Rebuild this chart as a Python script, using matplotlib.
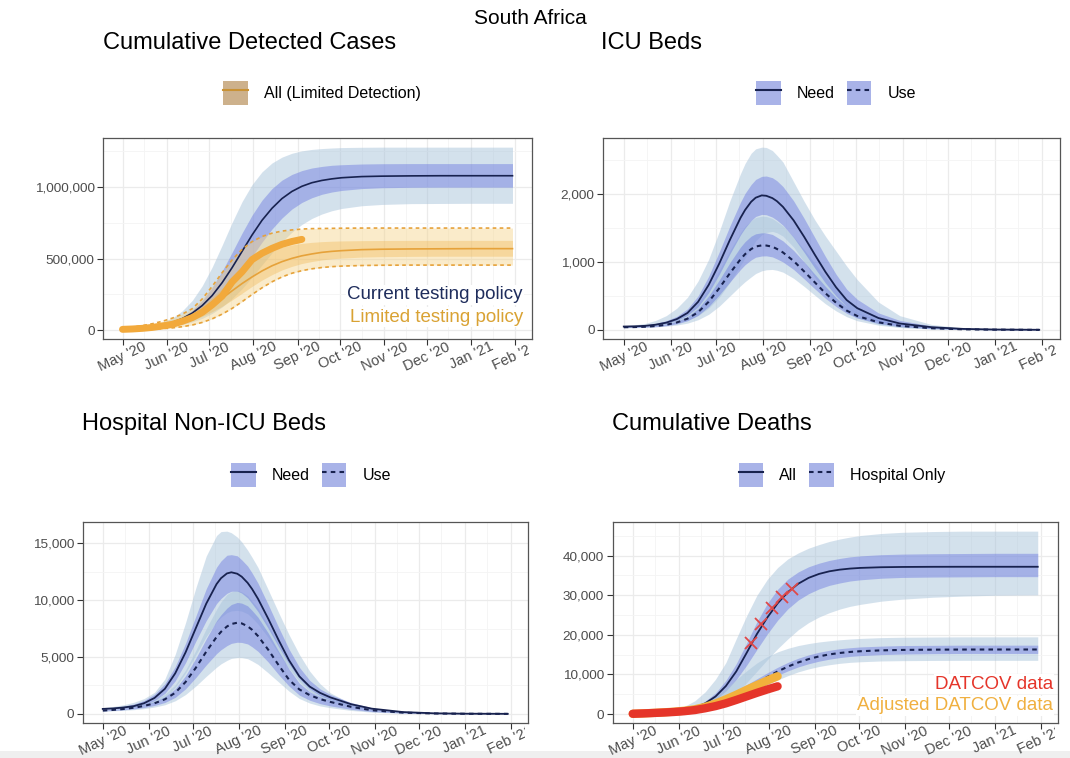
import numpy as np
import pandas as pd
import matplotlib
matplotlib.use('Agg')
import matplotlib.pyplot as plt
import matplotlib.dates as mdates
from matplotlib.ticker import MultipleLocator, FuncFormatter
from matplotlib.patches import Patch, Rectangle
from matplotlib.lines import Line2D
from matplotlib.legend_handler import HandlerTuple
from matplotlib.transforms import Bbox

plt.rcParams['font.family'] = ['Liberation Sans', 'DejaVu Sans']

# model output dates (weekly through early October, then sparser)
dates = ['2020-05-01', '2020-05-08', '2020-05-15', '2020-05-22', '2020-05-29',
         '2020-06-05', '2020-06-12', '2020-06-19', '2020-06-26', '2020-07-03',
         '2020-07-10', '2020-07-17', '2020-07-24', '2020-07-31', '2020-08-07',
         '2020-08-14', '2020-08-21', '2020-08-28', '2020-09-04', '2020-09-11',
         '2020-09-18', '2020-09-25', '2020-10-02', '2020-10-16', '2020-10-30',
         '2020-11-20', '2020-12-11', '2021-01-01', '2021-01-30']
# bed-occupancy curves carry extra points around the peak
peak_dates = dates[:12] + ['2020-07-20', '2020-07-24', '2020-07-27', '2020-07-31',
                           '2020-08-03', '2020-08-07', '2020-08-10'] + dates[15:]

# cumulative detected cases, thousands
cases_med = [7, 10, 16, 24, 36, 54, 81, 119, 172, 242, 332, 437, 551, 665, 768, 852, 920, 970,
             1006, 1031, 1047, 1058, 1066, 1074, 1077, 1079, 1080, 1080, 1080]
cases_50_lo = [5, 7.5, 11, 17, 25, 38, 56, 83, 119, 169, 235, 318, 413, 515, 615, 707, 784, 847,
               893, 926, 950, 966, 977, 990, 996, 999, 1000, 1000, 1000]
cases_50_hi = [8, 12, 18, 26, 40, 59, 91, 139, 207, 299, 413, 544, 679, 804, 909, 990, 1049, 1089,
               1116, 1134, 1145, 1153, 1157, 1162, 1164, 1165, 1165, 1165, 1165]
cases_95_lo = [4, 6, 8.7, 12.9, 18.9, 27.5, 39.8, 57.6, 82, 117, 162, 220, 290, 370, 456, 540, 618,
               685, 739, 781, 812, 835, 851, 870, 879, 885, 886, 887, 887]
cases_95_hi = [10, 14, 21, 33, 53, 85, 135, 208, 310, 441, 594, 753, 899, 1018, 1107, 1169, 1210,
               1237, 1254, 1264, 1270, 1274, 1277, 1279, 1280, 1280, 1280, 1280, 1280]

lim_med = [5, 8, 13, 20, 30, 44, 63, 90, 125, 170, 222, 275, 326, 372, 414, 450, 479, 502, 520,
           533, 544, 551, 556, 563, 566, 568, 569, 570, 570]
lim_50_lo = [4, 6.5, 10, 15, 22, 33, 48, 68, 96.5, 129, 167, 211, 258, 306, 350, 388, 421, 446,
             466, 480, 491, 499, 504, 511, 514, 516, 517, 517, 517]
lim_50_hi = [7, 10.6, 16.3, 24.8, 37.8, 56.6, 83.5, 120, 169, 228, 294, 363, 427, 481, 525, 557,
             580, 596, 607, 614, 619, 622, 624, 626, 627, 628, 628, 628, 628]
lim_95_lo = [2, 3, 4.4, 6.8, 10.5, 16, 24, 36, 54, 79, 112, 152, 199, 249, 296, 338, 372, 398,
             416, 429, 438, 444, 448, 452, 454, 455, 455, 455, 455]
lim_95_hi = [15, 22, 32, 45, 62, 84, 112, 150, 218, 306, 402, 491, 565, 619, 655, 678, 693, 701,
             707, 710, 711, 712, 713, 714, 714, 714, 714, 714, 714]

case_dates = ['2020-05-01', '2020-05-08', '2020-05-15', '2020-05-22', '2020-05-29',
              '2020-06-05', '2020-06-12', '2020-06-19', '2020-06-26', '2020-07-03',
              '2020-07-10', '2020-07-17', '2020-07-24', '2020-07-31', '2020-08-07',
              '2020-08-14', '2020-08-21', '2020-08-28', '2020-09-04']
case_data = [5.6, 8.2, 12.7, 19.1, 29.2, 40.8, 61.9, 87.7, 124.6, 177, 238, 337, 408, 493, 538,
             572, 600, 620, 635]

# ICU beds (on peak_dates)
icu_need = [50, 53, 60, 77, 107, 160, 250, 413, 663, 978, 1326, 1650, 1765, 1886, 1946, 1980,
            1974, 1940, 1895, 1811, 1613, 1369, 1107, 854, 628, 440, 320, 175, 95, 40, 15, 6, 2]
icu_need_50_lo = [45, 49, 56, 70, 95, 140, 215, 340, 550, 820, 1120, 1400, 1500, 1610, 1670, 1700,
                  1695, 1660, 1615, 1540, 1360, 1140, 910, 690, 500, 345, 245, 130, 70, 28, 10, 4, 1]
icu_need_50_hi = [55, 63, 75, 97, 135, 200, 310, 500, 790, 1150, 1530, 1880, 2010, 2140, 2215,
                  2260, 2265, 2240, 2195, 2110, 1900, 1640, 1360, 1080, 820, 600, 450, 250, 140,
                  60, 22, 9, 3]
icu_need_95_lo = [40, 45, 52, 62, 78, 100, 140, 210, 320, 480, 700, 950, 1060, 1200, 1310, 1400,
                  1435, 1450, 1430, 1380, 1220, 1000, 770, 560, 390, 260, 175, 85, 40, 15, 5, 2, 1]
icu_need_95_hi = [60, 75, 95, 140, 210, 320, 480, 720, 1040, 1450, 1900, 2300, 2450, 2600, 2665,
                  2690, 2685, 2640, 2570, 2470, 2180, 1890, 1620, 1380, 1160, 940, 740, 410, 210,
                  80, 30, 12, 4]
icu_use = [40, 42, 47, 57, 76, 110, 165, 260, 415, 615, 835, 1040, 1115, 1190, 1228, 1244, 1242,
           1225, 1192, 1140, 1015, 860, 700, 540, 400, 285, 205, 112, 60, 25, 9, 4, 1]
icu_use_50_lo = [35, 37, 40, 48, 63, 90, 135, 215, 345, 515, 705, 890, 960, 1030, 1070, 1088, 1090,
                 1075, 1045, 1000, 890, 750, 605, 465, 345, 245, 175, 95, 50, 20, 7, 3, 1]
icu_use_50_hi = [45, 48, 54, 66, 88, 128, 195, 315, 500, 735, 990, 1220, 1300, 1380, 1415, 1429,
                 1427, 1405, 1365, 1310, 1170, 1000, 820, 640, 475, 345, 250, 140, 75, 32, 12, 5, 2]
icu_use_95_lo = [30, 34, 38, 44, 55, 72, 100, 150, 230, 350, 500, 650, 710, 780, 830, 870, 885,
                 890, 878, 850, 760, 640, 510, 385, 280, 195, 135, 70, 35, 14, 5, 2, 1]
icu_use_95_hi = [48, 55, 65, 85, 122, 175, 260, 400, 610, 880, 1170, 1430, 1525, 1610, 1655, 1673,
                 1670, 1640, 1595, 1530, 1370, 1180, 980, 780, 600, 450, 335, 190, 105, 45, 17, 7, 2]

# hospital non-ICU beds (on peak_dates)
hosp_need = [437, 480, 560, 680, 940, 1400, 2200, 3560, 5400, 7550, 9690, 11415, 11930, 12350,
             12450, 12325, 12067, 11526, 10987, 10127, 8357, 6480, 4720, 3300, 2400, 1850, 1450,
             850, 460, 160, 50, 15, 3]
hosp_need_50_lo = [400, 430, 490, 600, 800, 1170, 1800, 2900, 4500, 6400, 8200, 9700, 10150, 10600,
                   10780, 10800, 10620, 10200, 9700, 9000, 7500, 5900, 4400, 3100, 2200, 1600,
                   1230, 700, 380, 130, 40, 12, 3]
hosp_need_50_hi = [480, 560, 680, 860, 1180, 1720, 2650, 4150, 6200, 8600, 11000, 12900, 13450,
                   13950, 14000, 13900, 13550, 13000, 12400, 11500, 9600, 7600, 5700, 4100, 2950,
                   2200, 1700, 1000, 540, 190, 60, 18, 4]
hosp_need_95_lo = [370, 430, 500, 590, 730, 980, 1450, 2300, 3600, 5200, 6800, 8100, 8500, 8900,
                   9050, 9100, 9030, 8800, 8450, 7900, 6700, 5300, 4000, 2850, 2000, 1450, 1100,
                   620, 330, 110, 35, 10, 2]
hosp_need_95_hi = [550, 650, 800, 1020, 1350, 1900, 3060, 5230, 8010, 11090, 13880, 15690, 16030,
                   16070, 15930, 15550, 15130, 14400, 13770, 12880, 10900, 8900, 6970, 5230, 3760,
                   2650, 1850, 900, 420, 140, 45, 14, 4]
hosp_use = [290, 350, 430, 540, 700, 930, 1280, 1850, 2800, 4058, 5466, 6761, 7216, 7681, 7904,
            8015, 7958, 7706, 7399, 6850, 5633, 4280, 3007, 2150, 1650, 1300, 1050, 620, 320, 110,
            35, 10, 2]
hosp_use_50_lo = [260, 300, 360, 440, 560, 740, 1000, 1450, 2200, 3200, 4300, 5300, 5640, 6000,
                  6200, 6300, 6280, 6150, 5900, 5500, 4550, 3450, 2450, 1650, 1200, 900, 700, 400,
                  200, 70, 22, 6, 1]
hosp_use_50_hi = [330, 400, 490, 610, 800, 1080, 1500, 2200, 3350, 4900, 6600, 8200, 8720, 9300,
                  9620, 9800, 9740, 9500, 9100, 8500, 7100, 5500, 3950, 2700, 1950, 1500, 1200,
                  710, 370, 130, 40, 12, 2]
hosp_use_95_lo = [230, 270, 310, 370, 460, 600, 800, 1150, 1700, 2450, 3300, 4100, 4400, 4700,
                  4880, 4950, 4945, 4850, 4650, 4350, 3600, 2800, 2000, 1350, 950, 700, 540, 300,
                  150, 50, 15, 4, 1]
hosp_use_95_hi = [350, 430, 540, 680, 900, 1220, 1720, 2550, 3850, 5600, 7500, 9200, 9850, 10500,
                  10740, 10850, 10720, 10400, 9920, 9300, 7800, 6100, 4500, 3150, 2250, 1700, 1350,
                  800, 420, 150, 45, 14, 3]

# cumulative deaths
deaths_all = [61, 106, 183, 316, 550, 942, 1603, 2696, 4434, 7072, 10750, 15410, 20210, 24360,
              27960, 30810, 32920, 34400, 35390, 36050, 36470, 36740, 36910, 37080, 37150, 37190,
              37200, 37200, 37200]
deaths_all_50_lo = [50, 85, 150, 260, 450, 770, 1300, 2200, 3650, 5800, 8700, 12300, 16300, 20200,
                    23700, 26600, 28800, 30400, 31600, 32500, 33100, 33600, 33900, 34300, 34500,
                    34600, 34650, 34700, 34700]
deaths_all_50_hi = [70, 125, 215, 370, 650, 1120, 1920, 3250, 5350, 8500, 12700, 17900, 23300,
                    27900, 31500, 34100, 35900, 37200, 38100, 38800, 39300, 39700, 39950, 40250,
                    40400, 40500, 40550, 40600, 40600]
deaths_all_95_lo = [40, 60, 95, 150, 240, 390, 700, 1200, 2000, 3300, 5300, 7900, 10800, 13700,
                    16500, 19000, 21300, 23100, 24500, 25600, 26500, 27200, 27700, 28500, 29000,
                    29500, 29800, 30000, 30100]
deaths_all_95_hi = [90, 170, 320, 600, 1100, 1950, 3350, 5600, 8800, 13000, 19000, 24800, 30000,
                    34000, 37000, 39200, 40700, 41900, 42800, 43600, 44200, 44700, 45100, 45600,
                    45900, 46100, 46200, 46200, 46200]
deaths_hosp = [60, 110, 190, 320, 530, 860, 1350, 2050, 2900, 3950, 5100, 6400, 7800, 9350, 10750,
               11980, 13030, 13880, 14560, 15060, 15420, 15680, 15860, 16080, 16190, 16260, 16290,
               16300, 16300]
deaths_hosp_50_lo = [50, 95, 165, 280, 460, 750, 1180, 1800, 2600, 3550, 4650, 5900, 7200, 8500,
                     9750, 10900, 11900, 12700, 13350, 13850, 14250, 14550, 14750, 15000, 15150,
                     15250, 15300, 15300, 15300]
deaths_hosp_50_hi = [70, 125, 215, 360, 600, 970, 1520, 2300, 3300, 4500, 5900, 7400, 8900, 10400,
                     11800, 13050, 14100, 14950, 15600, 16100, 16500, 16750, 16950, 17150, 17300,
                     17350, 17400, 17400, 17400]
deaths_hosp_95_lo = [40, 80, 140, 230, 380, 610, 950, 1450, 2100, 2900, 3850, 4950, 6150, 7400,
                     8600, 9700, 10650, 11400, 12000, 12450, 12800, 13050, 13200, 13400, 13480,
                     13530, 13560, 13560, 13560]
deaths_hosp_95_hi = [80, 150, 260, 450, 760, 1250, 2000, 3100, 4600, 6500, 8700, 10900, 12900,
                     14500, 15700, 16600, 17300, 17800, 18200, 18500, 18750, 18950, 19100, 19300,
                     19400, 19450, 19500, 19500, 19500]

datcov_dates = case_dates[:15]
datcov = [60, 150, 260, 380, 520, 720, 1000, 1450, 2000, 2700, 3550, 4450, 5350, 6200, 7000]
datcov_adj = [60, 160, 280, 420, 590, 830, 1200, 1800, 2650, 3700, 4850, 6100, 7300, 8450, 9550]

excess_dates = ['2020-07-20', '2020-07-27', '2020-08-03', '2020-08-10', '2020-08-17']
excess = [17900, 22750, 26900, 29600, 31700]

NAVY = '#18224F'
LIGHT = '#A9C4DB'
DARK = '#6470E0'
OR_LIGHT = '#F5D48A'
OR_DARK = '#F0B44A'
OR_LINE = '#E6A23A'

W, H = 1070, 758
fig = plt.figure(figsize=(W / 100, H / 100), dpi=100)

# faint grey strip along the bottom edge
fig.patches.append(Rectangle((0, 0), 1, 7 / H, transform=fig.transFigure,
                             facecolor='#EFEFEF', edgecolor='none', zorder=-5))


def px_axes(l, r, t, b):
    return fig.add_axes([l / W, 1 - b / H, (r - l) / W, (b - t) / H])


def to_dates(lst):
    return pd.to_datetime(lst).to_numpy()


def k(lst):
    return np.array(lst, dtype=float) * 1000


t = to_dates(dates)
tp = to_dates(peak_dates)


def bands(ax, x, lo95, hi95, lo50, hi50, light=LIGHT, dark=DARK, a1=0.5, a2=0.42):
    ax.fill_between(x, lo95, hi95, color=light, alpha=a1, lw=0)
    ax.fill_between(x, lo50, hi50, color=dark, alpha=a2, lw=0)


def style(ax, major, minor):
    ax.xaxis.set_major_locator(mdates.MonthLocator())
    ax.xaxis.set_minor_locator(mdates.MonthLocator(bymonthday=16))
    ax.xaxis.set_major_formatter(mdates.DateFormatter("%b '%y"))
    ax.yaxis.set_major_locator(MultipleLocator(major))
    ax.yaxis.set_minor_locator(MultipleLocator(minor))
    ax.yaxis.set_major_formatter(FuncFormatter(lambda v, p: f'{v:,.0f}'))
    ax.grid(which='major', color='#EBEBEB', lw=0.9)
    ax.grid(which='minor', color='#F4F4F4', lw=0.6)
    ax.set_axisbelow(True)
    ax.tick_params(which='major', length=4, width=0.8, color='#333333', labelcolor='#4D4D4D')
    ax.tick_params(axis='y', labelsize=9.7, pad=2)
    ax.tick_params(axis='x', labelsize=10.5, pad=-3.5)
    ax.tick_params(which='minor', length=0)
    for s in ax.spines.values():
        s.set_color('#555555')
        s.set_linewidth(0.9)
    for lab in ax.get_xticklabels():
        lab.set_rotation(25)


def key_legend(labels, styles, cx, cy, box='#A9B3E8', line=NAVY):
    handles = [(Patch(facecolor=box, edgecolor='none'),
                Line2D([], [], color=line, lw=1.5, ls=s)) for s in styles]
    fig.legend(handles, labels, loc='center', bbox_to_anchor=(cx / W, 1 - cy / H),
               ncol=len(labels), frameon=False, fontsize=11.5, handlelength=1.55,
               handleheight=1.9, handletextpad=1.0, columnspacing=0.75,
               handler_map={tuple: HandlerTuple(ndivide=1)})


DOT = (0, (2.2, 2.0))

# --- cumulative detected cases
ax1 = px_axes(103, 532, 138, 339)
bands(ax1, t, k(cases_95_lo), k(cases_95_hi), k(cases_50_lo), k(cases_50_hi))
ax1.plot(t, k(cases_med), color=NAVY, lw=1.2)
bands(ax1, t, k(lim_95_lo), k(lim_95_hi), k(lim_50_lo), k(lim_50_hi),
      light=OR_LIGHT, dark=OR_DARK, a1=0.45, a2=0.35)
ax1.plot(t, k(lim_95_lo), color=OR_LINE, lw=1.2, ls=DOT)
ax1.plot(t, k(lim_95_hi), color=OR_LINE, lw=1.2, ls=DOT)
ax1.plot(t, k(lim_med), color=OR_LINE, lw=1.2)
ax1.plot(to_dates(case_dates), k(case_data), color='#F2A93B', lw=5,
         solid_capstyle='round', solid_joinstyle='round')
style(ax1, 500000, 250000)
ax1.text(0.979, 0.219, 'Current testing policy', transform=ax1.transAxes, ha='right',
         va='center', fontsize=13.5, color='#1F2D5C',
         bbox=dict(facecolor='white', edgecolor='none', pad=1))
ax1.text(0.979, 0.109, 'Limited testing policy', transform=ax1.transAxes, ha='right',
         va='center', fontsize=13.5, color='#D9A233',
         bbox=dict(facecolor='white', edgecolor='none', pad=1))

# --- ICU beds
ax2 = px_axes(603, 1060, 138, 339)
ax2.fill_between(tp, icu_need_95_lo, icu_need_95_hi, color=LIGHT, alpha=0.5, lw=0)
ax2.fill_between(tp, icu_use_95_lo, icu_use_95_hi, color=LIGHT, alpha=0.5, lw=0)
ax2.fill_between(tp, icu_need_50_lo, icu_need_50_hi, color=DARK, alpha=0.42, lw=0)
ax2.fill_between(tp, icu_use_50_lo, icu_use_50_hi, color=DARK, alpha=0.42, lw=0)
ax2.plot(tp, icu_need, color=NAVY, lw=1.3)
ax2.plot(tp, icu_use, color=NAVY, lw=1.5, ls=DOT)
style(ax2, 1000, 500)

# --- hospital non-ICU beds
ax3 = px_axes(82.5, 528, 522, 723)
ax3.fill_between(tp, hosp_need_95_lo, hosp_need_95_hi, color=LIGHT, alpha=0.5, lw=0)
ax3.fill_between(tp, hosp_use_95_lo, hosp_use_95_hi, color=LIGHT, alpha=0.5, lw=0)
ax3.fill_between(tp, hosp_need_50_lo, hosp_need_50_hi, color=DARK, alpha=0.42, lw=0)
ax3.fill_between(tp, hosp_use_50_lo, hosp_use_50_hi, color=DARK, alpha=0.42, lw=0)
ax3.plot(tp, hosp_need, color=NAVY, lw=1.3)
ax3.plot(tp, hosp_use, color=NAVY, lw=1.5, ls=DOT)
style(ax3, 5000, 2500)

# --- cumulative deaths
ax4 = px_axes(612.5, 1058, 522, 723)
bands(ax4, t, deaths_all_95_lo, deaths_all_95_hi, deaths_all_50_lo, deaths_all_50_hi)
bands(ax4, t, deaths_hosp_95_lo, deaths_hosp_95_hi, deaths_hosp_50_lo, deaths_hosp_50_hi)
ax4.plot(t, deaths_all, color=NAVY, lw=1.3)
ax4.plot(t, deaths_hosp, color=NAVY, lw=1.5, ls=DOT)
ax4.plot(to_dates(datcov_dates), datcov_adj, color='#F2B13C', lw=6, solid_capstyle='round')
ax4.plot(to_dates(datcov_dates), datcov, color='#E5352A', lw=6, solid_capstyle='round')
ax4.plot(to_dates(excess_dates), excess, ls='none', marker='x', ms=8, mew=1.3, color='#E04848')
style(ax4, 10000, 5000)
ax4.text(0.989, 0.194, 'DATCOV data', transform=ax4.transAxes, ha='right', va='center',
         fontsize=13.5, color='#E5352A', bbox=dict(facecolor='white', edgecolor='none', pad=1))
ax4.text(0.989, 0.085, 'Adjusted DATCOV data', transform=ax4.transAxes, ha='right',
         va='center', fontsize=13.5, color='#F0B040',
         bbox=dict(facecolor='white', edgecolor='none', pad=1))

# titles and legends
fig.text(530 / W, 1 - 18 / H, 'South Africa', ha='center', va='center', fontsize=15)
for x, y, s in [(103, 43, 'Cumulative Detected Cases'), (601, 43, 'ICU Beds'),
                (82, 424, 'Hospital Non-ICU Beds'), (612, 424, 'Cumulative Deaths')]:
    fig.text(x / W, 1 - y / H, s, ha='left', va='center', fontsize=17)

key_legend(['All (Limited Detection)'], ['-'], 322, 93, box='#CDB18C', line='#C99235')
key_legend(['Need', 'Use'], ['-', DOT], 836, 93)
key_legend(['Need', 'Use'], ['-', DOT], 311, 475)
key_legend(['All', 'Hospital Only'], ['-', DOT], 842, 475)

# the last month label of each panel is cut just past its tick
fig.canvas.draw()
feb = mdates.date2num(np.datetime64('2021-02-01'))
for ax in (ax1, ax2, ax3, ax4):
    xt = ax.transData.transform((feb, 0))[0]
    box = Bbox.from_extents(0, 0, xt + 14, H)
    for lab in ax.get_xticklabels():
        lab.set_clip_box(box)
        lab.set_clip_on(True)

fig.savefig('out.png', dpi=100)
